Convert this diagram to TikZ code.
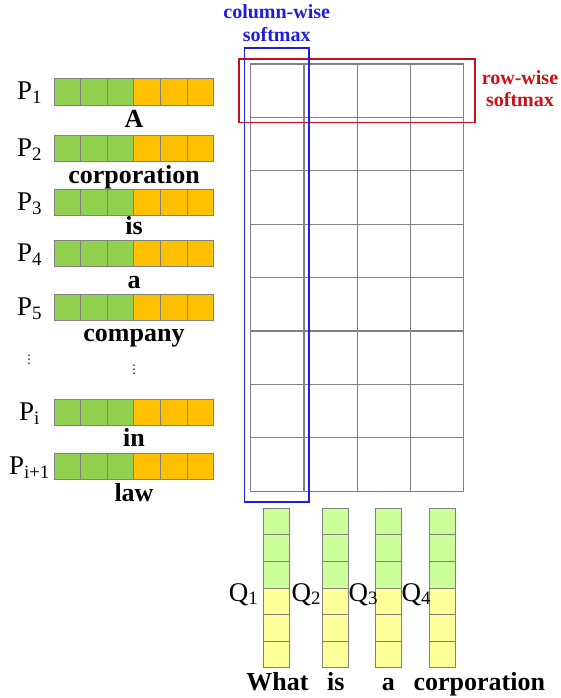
\documentclass[tikz,border=0pt]{standalone}
\usepackage{fontspec}
\setmainfont{Liberation Serif}
\newfontfamily\symfont{DejaVu Sans}
\usetikzlibrary{positioning,fit,calc}
\definecolor{pgreen}{RGB}{146,208,80}
\definecolor{porange}{RGB}{255,192,0}
\definecolor{qgreen}{RGB}{204,255,153}
\definecolor{qyellow}{RGB}{255,255,153}
\definecolor{rowred}{RGB}{200,16,24}
\definecolor{colblue}{RGB}{30,30,225}
\definecolor{cellgray}{RGB}{128,128,128}

\tikzset{
    cell/.style={rectangle, draw=cellgray, line width=1pt, minimum width=26.6pt, minimum height=26.6pt, inner sep=0pt, outer sep=0pt, anchor=north west},
    gridcell/.style={rectangle, draw=cellgray, line width=1.2pt, minimum width=53.25pt, minimum height=53.4pt, inner sep=0pt, outer sep=0pt, anchor=north west},
    word/.style={font=\fontsize{26}{30}\selectfont\bfseries, anchor=base, inner sep=0pt},
    vlabel/.style={font=\fontsize{27}{30}\selectfont, anchor=base, inner sep=0pt},
    note/.style={font=\fontsize{20}{22.7}\selectfont\bfseries, align=center, anchor=base, inner sep=0pt},
    dotsmark/.style={font=\symfont\fontsize{12}{14}\selectfont, inner sep=0pt},
    softbox/.style={rectangle, line width=1.6pt, inner sep=0pt}
}

\begin{document}
\begin{tikzpicture}[x=1pt, y=-1pt]
    \useasboundingbox (0,0) rectangle (560,698);

    % passage vectors P_1 ... P_{i+1}
    \foreach \n/\ty/\sub/\wy/\w in {p1/78.7/1/128/A, p2/135.3/2/183.3/corporation, p3/189/3/234/is, p4/240/4/288/a, p5/294/5/341.7/company, pi/399.3/i/446.7/in, pj/453/i+1/501.7/law} {
        \foreach \k in {0,1,2}
            \node[cell, fill=pgreen] (\n-\k) at ({54+26.6*\k},\ty) {};
        \foreach \k in {3,4,5}
            \node[cell, fill=porange] (\n-\k) at ({54+26.6*\k},\ty) {};
        \node[vlabel] (\n-lab) at (29.5,{\ty+21.3}) {P\textsubscript{\sub}};
        \node[word] (\n-word) at (134,\wy) {\w};
    }
    \node[dotsmark] (labdots) at (29,360) {⋮};
    \node[dotsmark] (worddots) at (134,370) {⋮};

    % attention grid
    \foreach \r in {1,...,8}
        \foreach \c in {1,...,4}
            \node[gridcell] (g-\r-\c) at ({250.7+53.25*(\c-1)},{64+53.4*(\r-1)}) {};

    % softmax boxes
    \node[softbox, draw=rowred, fit=(g-1-1)(g-1-4), inner xsep=11.5pt, inner ysep=5pt] (rowbox) {};
    \node[softbox, draw=colblue, fit=(g-1-1)(g-8-1), inner xsep=5.7pt, inner ysep=13.2pt, xshift=-0.7pt, yshift=2.5pt] (colbox) {};
    \node[note, text=colblue] (colnote) at (276.7,41.7) {column-wise\\softmax};
    \node[note, text=rowred] (rownote) at (520,106.7) {row-wise\\softmax};

    % question vectors Q_1 ... Q_4
    \foreach \n/\qx/\lx/\wx/\w in {1/263.3/243.7/277.5/What, 2/322/306.3/335.7/is, 3/375.3/363.3/388.3/a, 4/429.3/416.3/479.3/corporation} {
        \foreach \k in {0,1,2}
            \node[cell, fill=qgreen] (q\n-\k) at (\qx,{508.3+26.6*\k}) {};
        \foreach \k in {3,4,5}
            \node[cell, fill=qyellow] (q\n-\k) at (\qx,{508.3+26.6*\k}) {};
        \node[vlabel] (q\n-lab) at (\lx,601) {Q\textsubscript{\n}};
        \node[word] (q\n-word) at (\wx,690.7) {\w};
    }
\end{tikzpicture}
\end{document}
